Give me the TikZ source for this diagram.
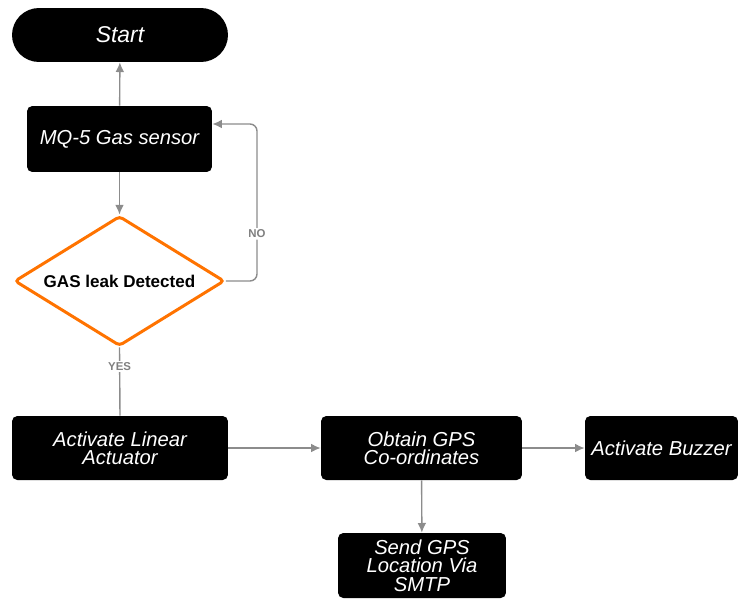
\documentclass[tikz,border=0pt]{standalone}
\usepackage{fontspec}
\setmainfont{Liberation Sans}
\usetikzlibrary{shapes.geometric, arrows.meta}

\begin{document}
\begin{tikzpicture}[> = {Latex[length = 5.5pt, width = 5pt]}, x = 0.02cm, y = -0.02cm,
	box/.style = {fill = black, text = white, rounded corners = 3pt, align = center, inner sep = 0pt, font = \fontsize{11.5}{10.5}\selectfont\itshape},
	check/.style = {diamond, shape aspect = 1.6, draw = orange!90!red, line width = 1.7pt, fill = white, rounded corners = 2pt, inner sep = 0pt, font = \fontsize{9.7}{11}\selectfont\bfseries},
	link/.style = {draw = black!45, line width = 0.8pt},
	tag/.style = {fill = white, text = black!50, inner sep = 1pt, font = \fontsize{6.5}{7}\selectfont\bfseries}]

\useasboundingbox (0, 0) rectangle (744, 599);

\node [box, rounded corners = 0.54cm, minimum width = 4.32cm, minimum height = 1.08cm, font = \fontsize{13}{14}\selectfont\itshape] (start) at (120, 35) {Start};
\node [box, minimum width = 3.70cm, minimum height = 1.32cm] (sensor) at (119.5, 139) {MQ-5 Gas sensor};
\node [check, minimum width = 4.20cm, minimum height = 2.60cm] (leak) at (119.5, 281) {GAS leak Detected};

\node [box, minimum width = 4.32cm, minimum height = 1.28cm] (actuator) at (120, 448) {Activate Linear\\Actuator};
\node [box, minimum width = 4.02cm, minimum height = 1.28cm] (gps) at (421.5, 448) {Obtain GPS\\Co-ordinates};
\node [box, minimum width = 3.06cm, minimum height = 1.28cm] (buzzer) at (661.5, 448) {Activate Buzzer};
\node [box, minimum width = 3.36cm, minimum height = 1.30cm] (smtp) at (422, 565.5) {Send GPS\\Location Via\\SMTP};

\coordinate (loop) at (257, 124);

\draw [link, ->] (sensor) -- (start);
\draw [link, ->] (sensor) -- (leak);
\draw [link, ->, rounded corners = 4pt] (leak.east) -| node [tag, pos = 0.65] (no) {NO} (loop) -- (sensor.east |- loop);
\draw [link] (leak.south) -- node [tag, pos = 0.28] (yes) {YES} (actuator.north);

\draw [link, ->] (actuator) -- (gps);
\draw [link, ->] (gps) -- (buzzer);
\draw [link, ->] (gps) -- (smtp);

\end{tikzpicture}
\end{document}
